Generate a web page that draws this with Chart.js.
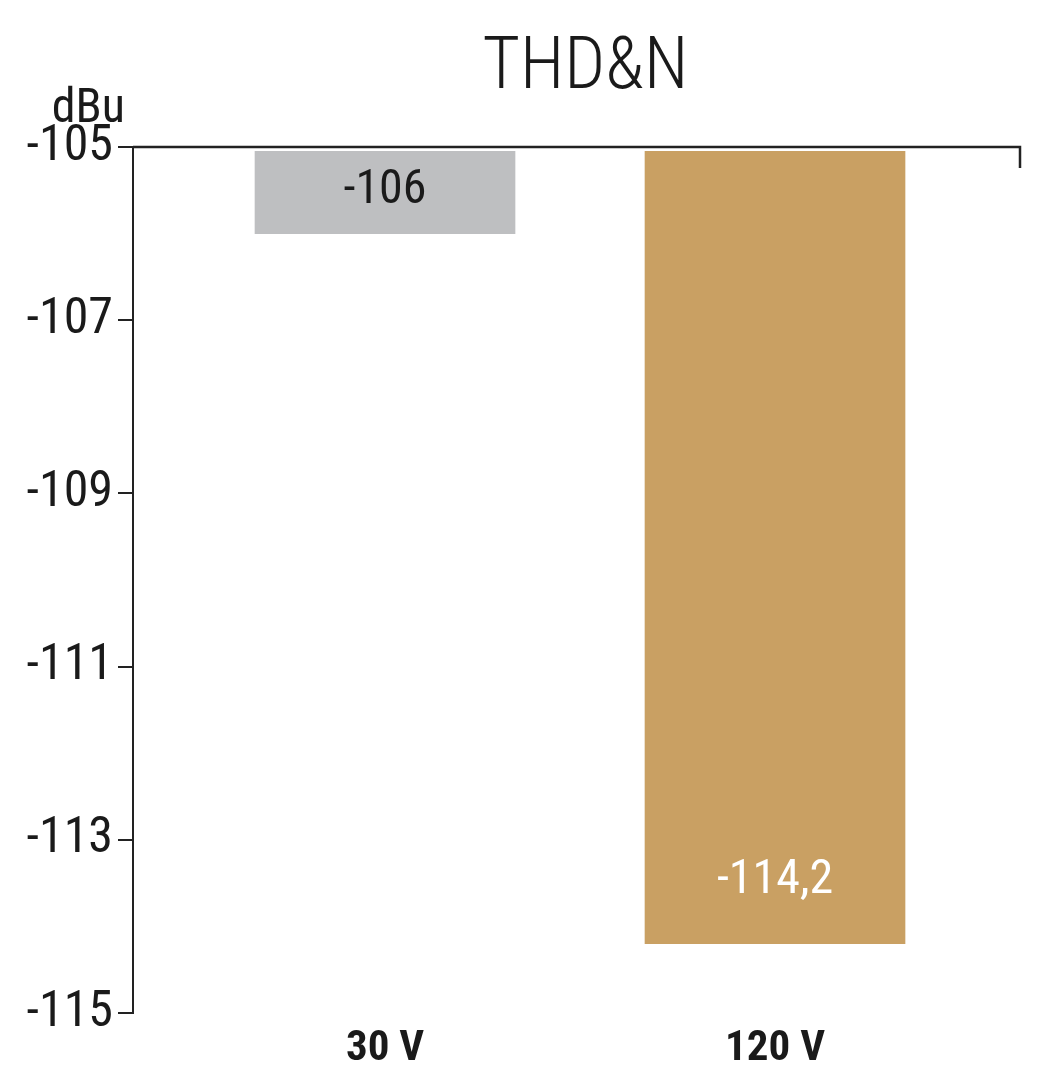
<!DOCTYPE html>
<html>
<head>
<meta charset="utf-8">
<script src="https://cdn.jsdelivr.net/npm/chart.js@4.4.1/dist/chart.umd.min.js"></script>
<style>
  html, body { margin: 0; padding: 0; background: #ffffff; }
  #wrap { width: 1048px; height: 1080px; }
</style>
</head>
<body>
<div id="wrap"><canvas id="c" width="1048" height="1080"></canvas></div>
<script>
// ---- data ----
const categories = ['30 V', '120 V'];
const values = [-106, -114.2];
const valueLabels = ['-106', '-114,2'];
const barColors = ['#bebfc1', '#c9a063'];
const labelColors = ['#1a1a1a', '#ffffff'];
const yTicks = [-115, -113, -111, -109, -107, -105];
const titleText = 'THD&N';
const unitText = 'dBu';

const FONT = "'Roboto Condensed', 'Liberation Sans Narrow', 'Liberation Sans', sans-serif";
const INK = '#1a1a1a';

const framePlugin = {
  id: 'frame',
  afterDraw(chart) {
    const ctx = chart.ctx, a = chart.chartArea;
    ctx.save();
    ctx.strokeStyle = '#222222';
    ctx.lineWidth = 2.5;
    ctx.beginPath();
    ctx.moveTo(a.left, a.top);
    ctx.lineTo(a.right, a.top);
    ctx.lineTo(a.right, a.top + 21);
    ctx.stroke();
    // title
    ctx.fillStyle = INK;
    ctx.font = "300 72px " + FONT;
    ctx.textAlign = 'center';
    ctx.textBaseline = 'alphabetic';
    ctx.fillText(titleText, (a.left + a.right) / 2 + 9, 88);
    // unit label
    ctx.font = "48px " + FONT;
    ctx.textAlign = 'right';
    ctx.fillText(unitText, 125, 122);
    ctx.restore();
  }
};

const valueLabelPlugin = {
  id: 'valueLabels',
  afterDatasetsDraw(chart, args, opts) {
    const ctx = chart.ctx;
    const meta = chart.getDatasetMeta(0);
    ctx.save();
    ctx.font = "48px " + FONT;
    ctx.textAlign = 'center';
    ctx.textBaseline = 'middle';
    meta.data.forEach((bar, i) => {
      ctx.fillStyle = labelColors[i];
      ctx.fillText(valueLabels[i], bar.x, bar.y - opts.offsets[i]);
    });
    ctx.restore();
  }
};

new Chart(document.getElementById('c'), {
  type: 'bar',
  data: {
    datasets: [{
      data: categories.map((c, i) => ({ x: i + 1, y: values[i] })),
      backgroundColor: barColors,
      borderWidth: 0,
      barThickness: 260,
      base: -105.05
    }]
  },
  options: {
    responsive: false,
    devicePixelRatio: 1,
    animation: false,
    layout: { padding: { left: 0, right: 28, top: 147, bottom: 0 } },
    plugins: {
      legend: { display: false },
      tooltip: { enabled: false },
      title: { display: false },
      valueLabels: { offsets: [43, 63] }
    },
    scales: {
      x: {
        type: 'linear',
        offset: false,
        min: 0.3538,
        max: 2.6282,
        afterBuildTicks(scale) {
          scale.ticks = categories.map((c, i) => ({ value: i + 1 }));
        },
        afterFit(scale) { scale.height = 67; },
        grid: { display: false, drawTicks: false, offset: false },
        border: { display: false },
        ticks: {
          padding: 10,
          color: INK,
          font: { family: FONT, size: 43, weight: 'bold' },
          callback: (v) => categories[v - 1] || ''
        }
      },
      y: {
        min: -115,
        max: -105,
        afterBuildTicks(scale) {
          scale.ticks = yTicks.map(v => ({ value: v }));
        },
        afterFit(scale) { scale.width = 133; },
        grid: {
          drawOnChartArea: false,
          drawTicks: true,
          tickLength: 15,
          color: '#222222',
          lineWidth: 2
        },
        border: { display: true, color: '#222222', width: 2 },
        ticks: {
          padding: 5,
          color: INK,
          font: { family: FONT, size: 50 },
          callback: (v) => String(v)
        }
      }
    }
  },
  plugins: [framePlugin, valueLabelPlugin]
});
</script>
</body>
</html>
